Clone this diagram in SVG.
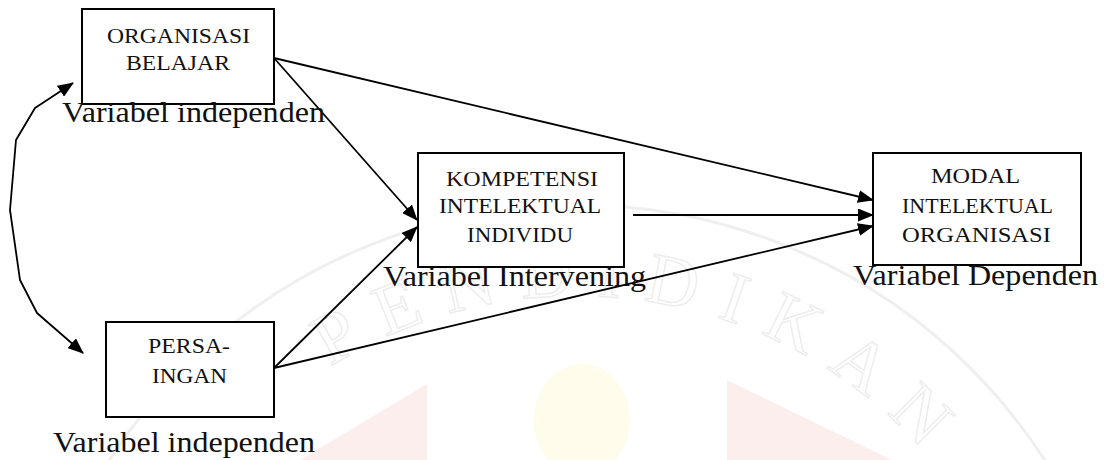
<svg xmlns="http://www.w3.org/2000/svg" width="1106" height="460" viewBox="0 0 1106 460">
  <style>
    .box { fill: #ffffff; stroke: #000000; stroke-width: 2; }
    .btxt { font-family: 'Liberation Serif', Tinos, 'Times New Roman', 'DejaVu Serif', serif; font-size: 21px; fill: #111111; text-anchor: middle; }
    .lbl { font-family: 'Liberation Serif', Tinos, 'Times New Roman', 'DejaVu Serif', serif; font-size: 30px; fill: #111111; }
    .edge { fill: none; stroke: #000000; stroke-width: 1.8; stroke-linejoin: round; }
    .wm-ring { fill: none; stroke: #efefef; stroke-width: 3; }
    .wm-text { font-family: 'Liberation Serif', Tinos, 'Times New Roman', serif; font-size: 72px; fill: none; stroke: #ececec; stroke-width: 1.4; }
  </style>
  <defs>
    <marker id="arrow" markerUnits="userSpaceOnUse" markerWidth="16" markerHeight="13" refX="15" refY="6.5" orient="auto-start-reverse">
      <path d="M0,0 L16,6.5 L0,13 z" fill="#000000"/>
    </marker>
    <path id="wm-arc" d="M112,761 A465,465 0 0 1 1042,761"/>
  </defs>

  <rect width="1106" height="460" fill="#ffffff"/>

  <!-- faint background emblem -->
  <g id="emblem">
    <circle class="wm-ring" cx="577" cy="761" r="556"/>
    <polygon points="300,460 427,384 427,460" fill="#fdeeee"/>
    <polygon points="727,380 727,460 892,460" fill="#fdeeee"/>
    <ellipse cx="582" cy="420" rx="48" ry="56" fill="#fffcec"/>
    <text class="wm-text"><textPath href="#wm-arc" startOffset="470" textLength="650" lengthAdjust="spacing">PENDIDIKAN</textPath></text>
  </g>

  <!-- connectors -->
  <g id="connectors">
    <path class="edge" d="M274,58 L873,200" marker-end="url(#arrow)"/>
    <path class="edge" d="M274,58 L417,220" marker-end="url(#arrow)"/>
    <path class="edge" d="M274,368 L417,227" marker-end="url(#arrow)"/>
    <path class="edge" d="M274,368 L873,226" marker-end="url(#arrow)"/>
    <path class="edge" d="M633,215 L873,215" marker-end="url(#arrow)"/>
    <path class="edge" d="M73,83 L35,108 L16,140 L10,210 L20,280 L37,313 L83,353" marker-start="url(#arrow)" marker-end="url(#arrow)"/>
  </g>

  <!-- nodes -->
  <g id="organisasi-belajar">
    <rect class="box" x="82" y="9" width="192" height="95"/>
    <text class="btxt" x="178.5" y="43" textLength="143" lengthAdjust="spacingAndGlyphs">ORGANISASI</text>
    <text class="btxt" x="178" y="70" textLength="104" lengthAdjust="spacingAndGlyphs">BELAJAR</text>
    <text class="lbl" x="62" y="122" textLength="263" lengthAdjust="spacingAndGlyphs">Variabel independen</text>
  </g>

  <g id="persaingan">
    <rect class="box" x="106" y="322" width="168" height="95"/>
    <text class="btxt" x="189" y="353" textLength="82" lengthAdjust="spacingAndGlyphs">PERSA-</text>
    <text class="btxt" x="189.5" y="383" textLength="75" lengthAdjust="spacingAndGlyphs">INGAN</text>
    <text class="lbl" x="53" y="452" textLength="262" lengthAdjust="spacingAndGlyphs">Variabel independen</text>
  </g>

  <g id="kompetensi-intelektual-individu">
    <rect class="box" x="418" y="153" width="206" height="114"/>
    <text class="btxt" x="522" y="186" textLength="152" lengthAdjust="spacingAndGlyphs">KOMPETENSI</text>
    <text class="btxt" x="520" y="213" textLength="162" lengthAdjust="spacingAndGlyphs">INTELEKTUAL</text>
    <text class="btxt" x="520" y="242" textLength="106" lengthAdjust="spacingAndGlyphs">INDIVIDU</text>
    <text class="lbl" x="383" y="286" textLength="263" lengthAdjust="spacingAndGlyphs">Variabel Intervening</text>
  </g>

  <g id="modal-intelektual-organisasi">
    <rect class="box" x="873" y="153" width="208" height="112"/>
    <text class="btxt" x="975.5" y="183" textLength="89" lengthAdjust="spacingAndGlyphs">MODAL</text>
    <text class="btxt" x="977.5" y="213" textLength="151" lengthAdjust="spacingAndGlyphs">INTELEKTUAL</text>
    <text class="btxt" x="976.5" y="242" textLength="149" lengthAdjust="spacingAndGlyphs">ORGANISASI</text>
    <text class="lbl" x="853" y="285" textLength="245" lengthAdjust="spacingAndGlyphs">Variabel Dependen</text>
  </g>
</svg>
